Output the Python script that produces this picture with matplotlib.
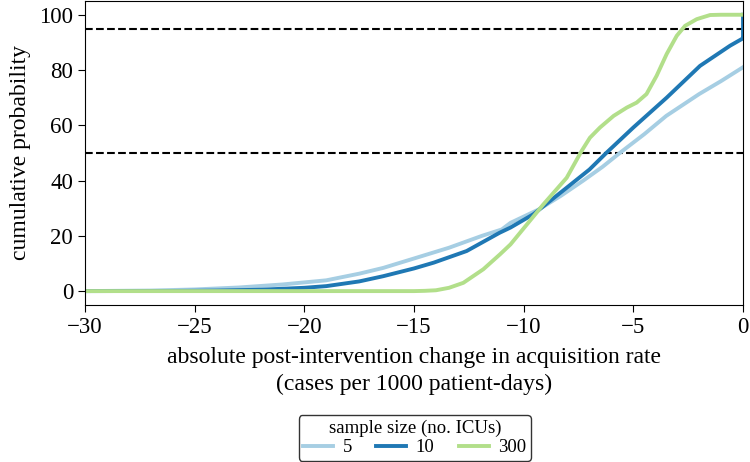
import matplotlib
matplotlib.use("Agg")
import matplotlib.pyplot as plt

plt.rcParams["font.family"] = ["Liberation Serif", "DejaVu Serif"]
plt.rcParams["mathtext.fontset"] = "stix"

# sample size 5 (light blue)
x_5 = [-30, -27, -25, -23, -21, -19, -17.5, -16.4, -15, -13.4, -11.9, -11, -10.6,
       -9.3, -8.3, -7.3, -6.4, -5.6, -4.5, -3.5, -2.0, -1.0, 0]
y_5 = [0, 0.2, 0.6, 1.3, 2.4, 3.9, 6.3, 8.4, 11.8, 15.7, 20, 22.3, 24.7,
       29.6, 34.5, 39.9, 45, 50.1, 56.8, 63.4, 71.3, 76, 81]

# sample size 10 (dark blue)
x_10 = [-30, -26, -24, -22, -20, -19, -17.5, -16.4, -15, -14.1, -12.6, -11.1, -10.6,
        -9.56, -8.04, -7, -6.22, -5, -3.48, -1.96, -0.59, -0.06, 0, 0]
y_10 = [0, 0.05, 0.2, 0.5, 1.2, 1.8, 3.5, 5.4, 8.2, 10.3, 14.5, 21.1, 23,
        27.8, 37.4, 44, 50.1, 59.2, 70, 81.5, 88.8, 91.2, 91.5, 100]

# sample size 300 (green)
x_300 = [-30, -15, -14.5, -14, -13.4, -12.75, -11.84, -11.08, -10.6, -9.1, -8.04,
         -7.36, -6.98, -6.52, -5.9, -5.3, -4.85, -4.4, -3.94, -3.48, -3.02, -2.64,
         -2.11, -1.5, -1.0, 0]
y_300 = [0, 0, 0.1, 0.3, 1.2, 3, 7.9, 13.3, 16.9, 31.4, 41,
         50.7, 55.5, 59.2, 63.4, 66.4, 68.2, 71.3, 77.9, 85.8, 92.4, 96,
         98.4, 99.9, 100, 100]

labels = ["5", "10", "300"]
colors = ["#a6cee3", "#1f78b4", "#b2df8a"]
thresholds = [50, 95]

fig = plt.figure(figsize=(7.5, 4.62), dpi=100)
ax = fig.add_axes([0.1133, 0.340, 0.8774, 0.658])

for t in thresholds:
    ax.axhline(t, color="black", ls="--", lw=1.5, zorder=1)

for xs, ys, lab, c in zip([x_5, x_10, x_300], [y_5, y_10, y_300], labels, colors):
    ax.plot(xs, ys, color=c, lw=2.8, label=lab, zorder=2)

ax.set_xlim(-30, 0)
ax.set_ylim(-5, 105)
ax.set_xticks([-30, -25, -20, -15, -10, -5, 0])
ax.set_yticks([0, 20, 40, 60, 80, 100])
ax.tick_params(labelsize=16.5, length=5, direction="out")
ax.set_ylabel("cumulative probability", fontsize=17, labelpad=6)
ax.set_xlabel("absolute post-intervention change in acquisition rate\n"
              "(cases per 1000 patient-days)", fontsize=17, linespacing=1.35,
              labelpad=7)

fig.legend(loc="lower center", bbox_to_anchor=(0.553, 0.0), ncol=3,
           title="sample size (no. ICUs)", fontsize=13.5, title_fontsize=13.5,
           frameon=True, edgecolor="black", fancybox=True, borderpad=0.25,
           handlelength=1.6, columnspacing=1.3, labelspacing=0.1,
           handletextpad=0.5, borderaxespad=0.05)

fig.savefig("out.png", dpi=100)
